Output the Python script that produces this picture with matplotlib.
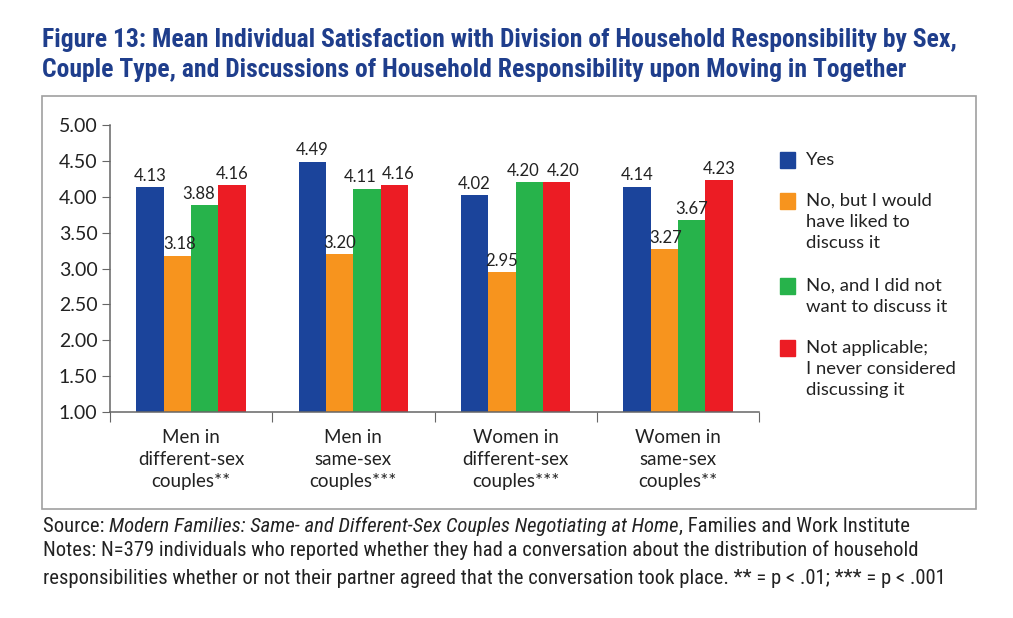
import numpy as np
import matplotlib
matplotlib.use("Agg")
import matplotlib.pyplot as plt
from matplotlib.patches import Rectangle

# data
groups = ["Men in\ndifferent-sex\ncouples**", "Men in\nsame-sex\ncouples***",
          "Women in\ndifferent-sex\ncouples***", "Women in\nsame-sex\ncouples**"]
series = ["Yes", "No, but I would\nhave liked to\ndiscuss it",
          "No, and I did not\nwant to discuss it",
          "Not applicable;\nI never considered\ndiscussing it"]
yes = [4.13, 4.49, 4.02, 4.14]
no_liked = [3.18, 3.20, 2.95, 3.27]
no_not_want = [3.88, 4.11, 4.20, 3.67]
not_applicable = [4.16, 4.16, 4.20, 4.23]
yticks = [1.0, 1.5, 2.0, 2.5, 3.0, 3.5, 4.0, 4.5, 5.0]

colors = ["#1B449B", "#F7941E", "#27B34B", "#EC1C24"]
title_col = "#1F3E8C"
narrow = ["Roboto Condensed", "DejaVu Sans"]
body = ["Lato", "DejaVu Sans"]
W, H = 1013, 618

fig = plt.figure(figsize=(10.13, 6.18), dpi=100)
ax = fig.add_axes([110 / W, 1 - 412 / H, (759 - 110) / W, (412 - 125) / H])
r = fig.canvas.get_renderer()


def fit(t, target):
    # shrink/grow a text so its width matches the reference width in pixels
    for _ in range(3):
        wpx = t.get_window_extent(r).width
        t.set_fontsize(t.get_fontsize() * target / wpx)


# frame around the chart
fig.patches.append(Rectangle((42 / W, 1 - 509 / H), (976 - 42) / W, (509 - 96) / H,
                             transform=fig.transFigure, fill=False, edgecolor="#A0A0A0", lw=1.2))

# small sideways nudges for labels that would collide (series index, group index)
nudge = {(2, 0): -0.035, (2, 1): -0.04, (3, 1): 0.025,
         (2, 2): -0.04, (3, 2): 0.04, (1, 0): 0.012, (1, 3): 0.012}

w = 0.1685
x = np.arange(len(groups)) + 0.5
for i, vals in enumerate([yes, no_liked, no_not_want, not_applicable]):
    pos = x + (i - 1.5) * w
    ax.bar(pos, [v - 1 for v in vals], w, bottom=1, color=colors[i], label=series[i])
    for j, (p, v) in enumerate(zip(pos, vals)):
        ax.text(p + nudge.get((i, j), 0), v + 0.05, f"{v:.2f}", ha="center", va="bottom",
                fontsize=12, family=body, color="#222222")

ax.set_xlim(0, 4)
ax.set_ylim(1, 5)
ax.set_yticks(yticks)
ax.set_yticklabels([f"{t:.2f}" for t in yticks], fontsize=14, family=body, color="#222222")
ax.set_xticks(range(5))
ax.set_xticklabels([])
ax.set_xticks(x, minor=True)
ax.set_xticklabels(groups, minor=True, fontsize=13.5, family=body, color="#222222", linespacing=1.38)
ax.tick_params(axis="x", which="minor", length=0, pad=12)
ax.tick_params(axis="x", which="major", length=7, color="#666666", direction="out")
ax.tick_params(axis="y", length=6, color="#666666", pad=3)
for s in ["top", "right"]:
    ax.spines[s].set_visible(False)
for s in ["left", "bottom"]:
    ax.spines[s].set_color("#666666")
    ax.spines[s].set_linewidth(1.1)

# legend drawn by hand so squares line up with the first text line
leg_y = [160, 201, 286, 348]
for i, lab in enumerate(series):
    yc = 1 - leg_y[i] / H
    fig.patches.append(Rectangle((780 / W, yc - 8 / H), 15 / W, 16 / H, transform=fig.transFigure,
                                 color=colors[i]))
    fig.text(806 / W, yc + 8 / H, lab, fontsize=13.3, family=body, color="#222222",
             va="top", linespacing=1.37)

ttl = fig.text(42 / W, 1 - 55 / H,
               "Figure 13: Mean Individual Satisfaction with Division of Household Responsibility by Sex,\n"
               "Couple Type, and Discussions of Household Responsibility upon Moving in Together",
               fontsize=16, fontweight="bold", family=narrow, fontstretch="condensed",
               color=title_col, va="center", linespacing=1.3)
fit(ttl, 912)

fs = 12
src = fig.text(43 / W, 1 - 526 / H, "Source: ", fontsize=fs, family=narrow, fontstretch="condensed",
               color="#222222", va="center")
notes = fig.text(43 / W, 1 - 564 / H,
                 "Notes: N=379 individuals who reported whether they had a conversation about the distribution of household\n"
                 "responsibilities whether or not their partner agreed that the conversation took place. ** = p < .01; *** = p < .001",
                 fontsize=fs, family=narrow, fontstretch="condensed", color="#222222", va="center",
                 linespacing=1.6)
fit(notes, 902)
fs = notes.get_fontsize()
src.set_fontsize(fs)
bb = src.get_window_extent(r)
it = fig.text(bb.x1 / W, 1 - 526 / H,
              "Modern Families: Same- and Different-Sex Couples Negotiating at Home",
              fontsize=fs, family=narrow, fontstretch="condensed", style="italic",
              color="#222222", va="center")
bb2 = it.get_window_extent(r)
fig.text(bb2.x1 / W, 1 - 526 / H, ", Families and Work Institute", fontsize=fs,
         family=narrow, fontstretch="condensed", color="#222222", va="center")

fig.savefig("out.png", dpi=100)
